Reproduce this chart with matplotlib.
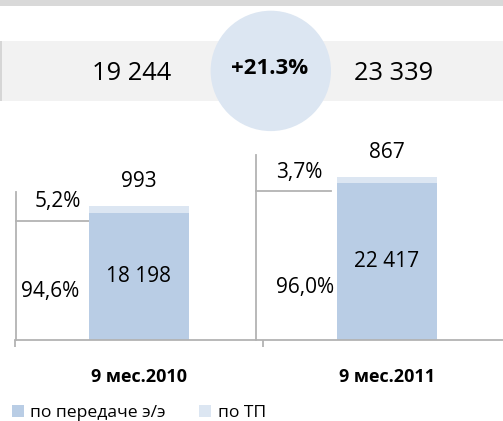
import matplotlib
matplotlib.use("Agg")
import matplotlib.pyplot as plt
from matplotlib.patches import Rectangle, Circle
import numpy as np

plt.rcParams['font.family'] = ['Open Sans', 'DejaVu Sans']

# ---- data ----
categories = ["9 мес.2010", "9 мес.2011"]
transmission = [18198, 22417]          # по передаче э/э
tech_connection = [993, 867]           # по ТП
transmission_pct = ["94,6%", "96,0%"]
tech_pct = ["5,2%", "3,7%"]
totals_text = ["19 244", "23 339"]
growth_text = "+21.3%"
series_names = ["по передаче э/э", "по ТП"]

c_main = "#b9cde5"
c_light = "#dce6f2"
c_line = "#b3b3b3"

W, H = 503, 421
fig = plt.figure(figsize=(W / 100, H / 100), dpi=100)

# ---- overlay (pixel coordinates) for header decorations ----
ov = fig.add_axes([0, 0, 1, 1])
ov.set_xlim(0, W)
ov.set_ylim(H, 0)
ov.axis("off")
ov.add_patch(Rectangle((0, 0), W, 5.5, color="#d9d9d9", lw=0))
ov.add_patch(Rectangle((0, 40.7), W, 60, color="#f2f2f2", lw=0))
ov.add_patch(Rectangle((0, 40.7), 2, 60, color="#d6d6d6", lw=0))
ov.add_patch(Circle((270.8, 70.9), 60.2, color=c_light, lw=0))
ov.text(132, 73, totals_text[0], ha="center", va="center", fontsize=18.4, color="black")
ov.text(394, 73, totals_text[1], ha="center", va="center", fontsize=18.4, color="black")
ov.text(270, 69, growth_text, ha="center", va="center", fontsize=16, fontweight="bold", color="black")

# ---- bar chart axes ----
ax_left = 15 / W
ax_bottom = (H - 340) / H
ax_w = 496 / W
ax_h = 190 / H
ax = fig.add_axes([ax_left, ax_bottom, ax_w, ax_h])
ax.patch.set_alpha(0)
px_per_unit = 0.006995
ax.set_xlim(-0.5, 1.5)
ax.set_ylim(0, 190 / px_per_unit)

x = np.arange(len(categories))
bw = 0.4
ax.bar(x, transmission, bw, color=c_main, lw=0, label=series_names[0], zorder=2)
ax.bar(x, tech_connection, bw, bottom=transmission, color=c_light, lw=0,
       label=series_names[1], zorder=2)

for s in ["top", "right", "left"]:
    ax.spines[s].set_visible(False)
ax.spines["bottom"].set_color(c_line)
ax.spines["bottom"].set_linewidth(1.3)
ax.set_yticks([])
ax.set_xticks([])
ax.set_xticks([-0.5, 0.5], minor=True)
ax.tick_params(axis="x", which="minor", length=5, width=1.3, color=c_line, labelbottom=False)

# bracket lines (left of each bar)
totals = [a + b for a, b in zip(transmission, tech_connection)]
vline_x = [-0.496, 0.472]
vline_top_offset = [2010, 3160]
hline_offset = [2136, 1984]
hline_end = [-bw / 2, 0.774]
for i in range(len(categories)):
    ax.plot([vline_x[i], vline_x[i]], [0, totals[i] + vline_top_offset[i]],
            color=c_line, lw=1.3, zorder=1, clip_on=False)
    hy = totals[i] - hline_offset[i]
    ax.plot([vline_x[i], hline_end[i]], [hy, hy], color=c_line, lw=1.3, zorder=1)

# value labels
for i in range(len(categories)):
    ax.text(x[i], transmission[i] / 2, f"{transmission[i]:,}".replace(",", " "),
            ha="center", va="center", fontsize=15)
    ax.annotate(f"{tech_connection[i]:,}".replace(",", " "), xy=(x[i], totals[i]),
                xytext=(0, 17.5), textcoords="offset points",
                ha="center", va="center", fontsize=15)

# percentage labels
main_pct_pos = [(-0.359, 6905), (0.669, 7434)]
tech_pct_pos = [(-0.327, 19771), (0.645, 23974)]
for i in range(len(categories)):
    ax.text(*main_pct_pos[i], transmission_pct[i], ha="center", va="center", fontsize=15)
    ax.text(*tech_pct_pos[i], tech_pct[i], ha="center", va="center", fontsize=15)

# category labels
for i, c in enumerate(categories):
    ax.annotate(c, xy=(x[i], 0), xytext=(0, -26.4), textcoords="offset points",
                ha="center", va="center", fontsize=13, fontweight="bold")

# legend
fig.legend(loc="center left", bbox_to_anchor=(12 / W, (H - 412.7) / H),
           ncol=2, frameon=False, fontsize=12.6, handlelength=0.7, handleheight=0.7,
           handletextpad=0.35, columnspacing=1.9, borderpad=0, borderaxespad=0)

fig.savefig("out.png", dpi=100)
